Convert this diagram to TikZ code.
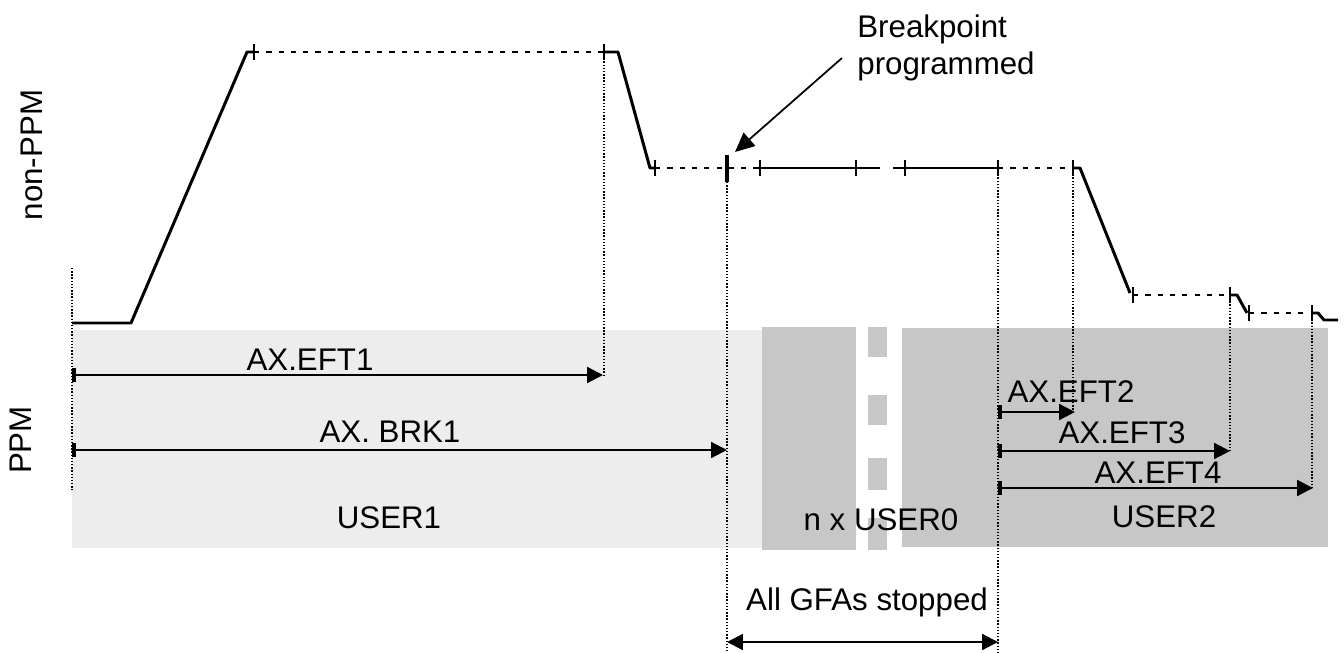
\documentclass[tikz,border=0pt]{standalone}
\usepackage{fontspec}
\setmainfont{Liberation Sans}
\usetikzlibrary{arrows.meta,positioning}

\begin{document}
\begin{tikzpicture}[
    x={(0.02cm,0)}, y={(0,-0.02cm)},
    lbl/.style={font=\fontsize{17.8}{21.6}\selectfont, inner sep=0pt, anchor=base},
    profile/.style={line width=1.7pt, line join=round},
    idle/.style={line width=0.9pt, dash pattern=on 3pt off 4pt},
    guide/.style={line width=0.8pt, densely dotted},
    tickbar/.style={line width=1.6pt},
    dim/.style={line width=1.2pt, {Bar[width=8pt,line width=2pt]}-{Triangle[length=9pt,width=9pt]}},
    pointer/.style={line width=1pt, -{Triangle[length=11pt,width=10pt]}},
    userbg/.style={fill=black!7},
    busybg/.style={fill=black!22}
]
    \useasboundingbox (0,0) rectangle (1344,652);

    % Cycle backgrounds (PPM part)
    \fill[userbg] (72,330) rectangle (762,548);
    \fill[busybg] (762,327) rectangle (856,550);
    \foreach \ya/\yb in {327/357, 395/425, 458/490, 518/550}
        \fill[busybg] (868,\ya) rectangle (887,\yb);
    \fill[busybg] (902,328) rectangle (1328,547);

    % Axis labels
    \node[lbl, anchor=center, rotate=90] (nonppm) at (32,155) {non-PPM};
    \node[lbl, anchor=center, rotate=90] (ppm) at (21,440) {PPM};

    % Magnet profile (non-PPM)
    \draw[profile] (72,323) -- (131,323) -- (247,52) -- (254,52);
    \draw[idle] (254,52) -- (604,52);
    \draw[profile] (604,52) -- (618,52) -- (650,168) -- (655,168);
    \draw[idle] (655,168) -- (760,168);
    \draw[profile] (760,168) -- (880,168);
    \draw[profile] (893,168) -- (998,168);
    \draw[idle] (998,168) -- (1073,168);
    \draw[profile] (1073,168) -- (1080,168) -- (1130,293);
    \draw[idle] (1133,295) -- (1230,295);
    \draw[profile] (1230,295) -- (1237,295) -- (1247,313);
    \draw[idle] (1249,313) -- (1312,313);
    \draw[profile] (1312,313) -- (1318,313) -- (1324,320) -- (1338,320);
    \foreach \tx/\ty in {254/52, 604/52, 655/168, 760/168, 856/168, 905/168,
                         998/168, 1073/168, 1133/295, 1230/295, 1249/313, 1312/313}
        \draw[tickbar] (\tx,\ty-8) -- (\tx,\ty+8);
    \draw[line width=2.6pt] (727,155) -- (727,182);

    % Breakpoint
    \node[lbl, anchor=north west, align=left] (bp) at (857,14) {Breakpoint\\programmed};
    \coordinate (bptail) at (842,58);
    \coordinate (bptip) at (735,152);
    \draw[pointer] (bptail) -- (bptip);

    % Vertical guides
    \draw[guide] (72,268) -- (72,490);
    \draw[guide] (604,52) -- (604,375);
    \draw[guide] (727,182) -- (727,652);
    \draw[guide] (998,168) -- (998,652);
    \draw[guide] (1073,168) -- (1073,410);
    \draw[guide] (1230,295) -- (1230,451);
    \draw[guide] (1312,313) -- (1312,488);

    % Event timers
    \foreach \nm/\xa/\xb/\yy in {eft1/72/603/375, brk1/72/727/450, eft2/998/1075/412,
                                 eft3/998/1230/451, eft4/998/1313/488} {
        \coordinate (\nm-s) at (\xa,\yy);
        \coordinate (\nm-e) at (\xb,\yy);
        \draw[dim] (\nm-s) -- (\nm-e);
    }
    \node[lbl] (eft1) at (310,370) {AX.EFT1};
    \node[lbl] (brk1) at (390,442) {AX. BRK1};
    \node[lbl] (eft2) at (1071,402) {AX.EFT2};
    \node[lbl] (eft3) at (1122,443) {AX.EFT3};
    \node[lbl] (eft4) at (1158,483) {AX.EFT4};

    % Users
    \node[lbl] (user1) at (389,528) {USER1};
    \node[lbl] (user0) at (881,530) {n x USER0};
    \node[lbl] (user2) at (1164,527) {USER2};

    % Stopped interval
    \node[lbl] (stop) at (867,610) {All GFAs stopped};
    \coordinate (stop-a) at (727,642);
    \coordinate (stop-b) at (998,642);
    \draw[line width=1.2pt, {Triangle[length=9pt,width=9pt]}-{Triangle[length=9pt,width=9pt]}] (stop-a) -- (stop-b);
\end{tikzpicture}
\end{document}
